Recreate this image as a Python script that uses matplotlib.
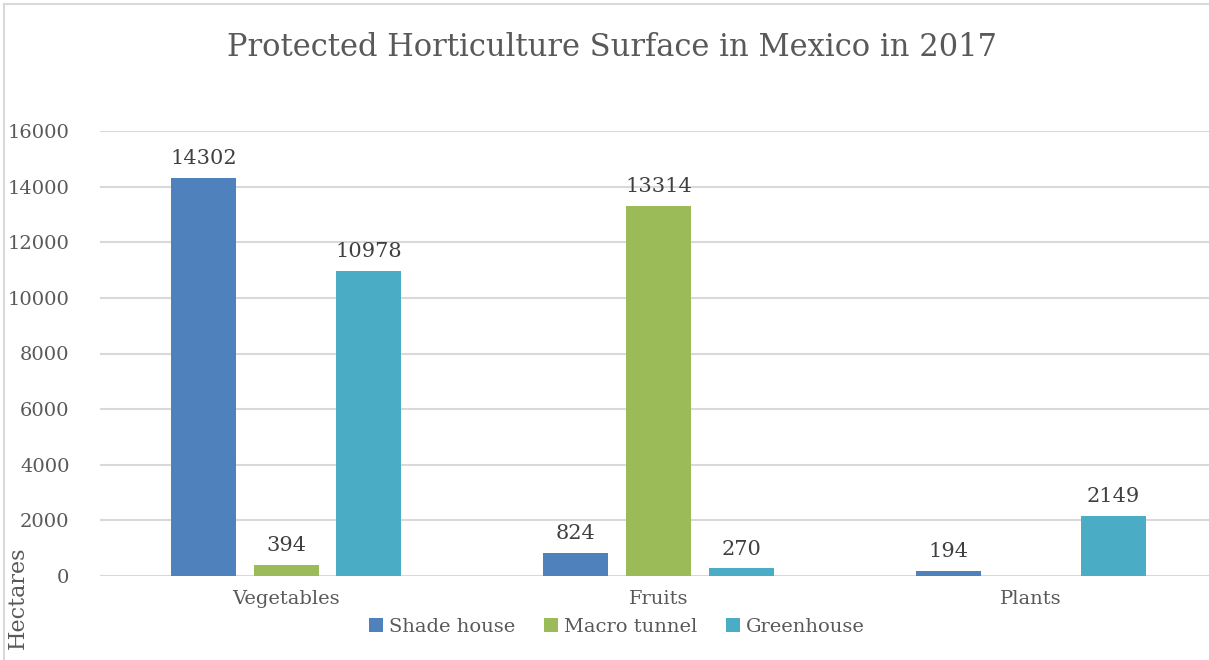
import numpy as np
import matplotlib
matplotlib.use("Agg")
import matplotlib.pyplot as plt
from matplotlib.lines import Line2D

categories = ["Vegetables", "Fruits", "Plants"]
series_names = ["Shade house", "Macro tunnel", "Greenhouse"]
shade_house = [14302, 824, 194]
macro_tunnel = [394, 13314, 0]
greenhouse = [10978, 270, 2149]
colors = ["#4F81BD", "#9BBB59", "#4BACC6"]
yticks = [0, 2000, 4000, 6000, 8000, 10000, 12000, 14000, 16000]

plt.rcParams["font.family"] = ["DejaVu Serif"]
TEXT = "#595959"
LABEL = "#404040"

W, H = 1209, 660
fig = plt.figure(figsize=(W / 100, H / 100), dpi=100)

# light chart border: only left and top edges show in the reference
fig.lines.append(Line2D([3.5 / W, 3.5 / W], [0, 1 - 3.5 / H],
                        transform=fig.transFigure, color="#D9D9D9", linewidth=1.5))
fig.lines.append(Line2D([3.5 / W, 1], [1 - 3.5 / H, 1 - 3.5 / H],
                        transform=fig.transFigure, color="#D9D9D9", linewidth=1.5))

ax = fig.add_axes([100 / W, 84 / H, 1117 / W, 445 / H])

x = np.arange(len(categories))
width = 0.175
step = 0.222
series = [shade_house, macro_tunnel, greenhouse]
for i, (vals, name, col) in enumerate(zip(series, series_names, colors)):
    pos = x + (i - 1) * step
    ax.bar(pos, vals, width, color=col, label=name, zorder=3)
    for p, v in zip(pos, vals):
        if v > 0:
            ax.text(p, v + 350, str(v), ha="center", va="bottom",
                    fontsize=15, color=LABEL)

ax.set_xlim(-0.5, 2.5)
ax.set_ylim(0, 16000)
ax.set_yticks(yticks)
ax.set_yticklabels([str(t) for t in yticks], fontsize=14, color=TEXT)
ax.set_xticks(x)
ax.set_xticklabels(categories, fontsize=14, color=TEXT)
ax.tick_params(axis="both", length=0)
ax.tick_params(axis="y", pad=22)
ax.tick_params(axis="x", pad=10)
ax.grid(axis="y", color="#D9D9D9", linewidth=1.5, zorder=0)
for s in ax.spines.values():
    s.set_visible(False)

fig.text(0.5 * (225 + 1000) / W, 1 - 48 / H,
         "Protected Horticulture Surface in Mexico in 2017",
         ha="center", va="center", fontsize=22, color=TEXT)

fig.text(18 / W, 1 - 598 / H, "Hectares", rotation=90, ha="center",
         va="center", fontsize=16, color=TEXT)

ax.legend(loc="center", bbox_to_anchor=(617 / W, 1 - 627 / H),
          bbox_transform=fig.transFigure, ncol=3, frameon=False,
          fontsize=14, labelcolor=TEXT, handlelength=0.7, handleheight=0.7,
          handletextpad=0.3, columnspacing=1.5)

fig.savefig("out.png", dpi=100)
